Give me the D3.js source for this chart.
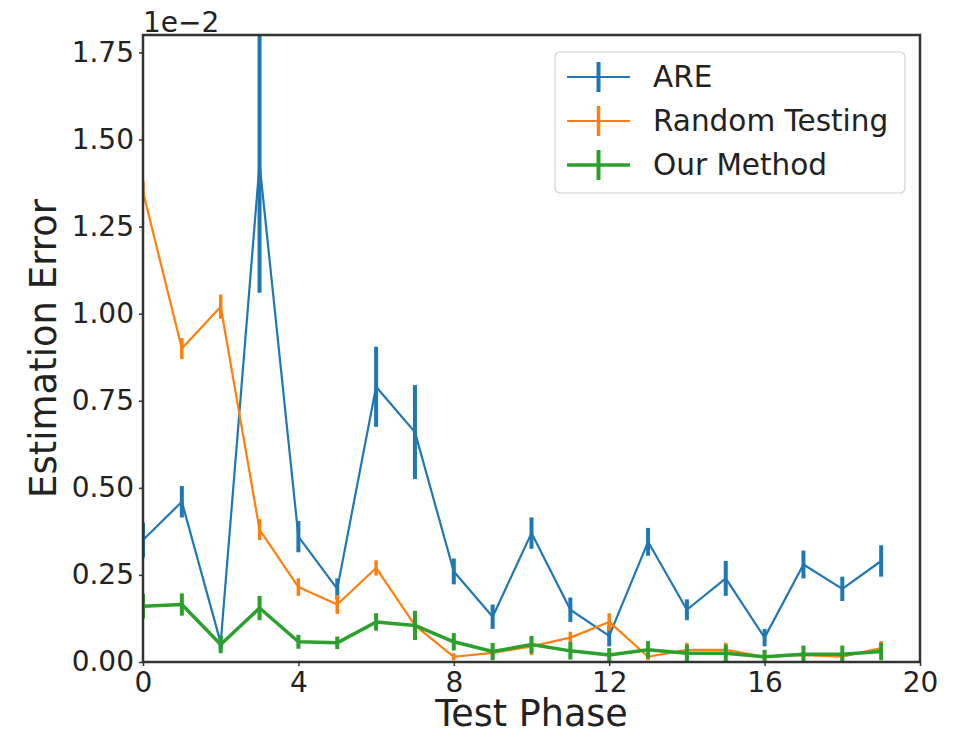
<!DOCTYPE html>
<html>
<head>
<meta charset="utf-8">
<script src="https://cdn.jsdelivr.net/npm/d3@7"></script>
<style>
  body { margin: 0; background: #fff; }
  text { font-family: "DejaVu Sans", sans-serif; fill: #222; }
</style>
</head>
<body>
<svg id="chart" width="961" height="734"></svg>
<script>
// values are in units of 1e-2
var phases = [0, 1, 2, 3, 4, 5, 6, 7, 8, 9, 10, 11, 12, 13, 14, 15, 16, 17, 18, 19]
var areMean = [0.35, 0.46, 0.055, 1.43, 0.36, 0.21, 0.79, 0.66, 0.26, 0.13, 0.37, 0.15, 0.075, 0.345, 0.15, 0.24, 0.07, 0.28, 0.21, 0.29]
var areErr = [0.05, 0.045, 0.02, 0.37, 0.045, 0.03, 0.115, 0.135, 0.037, 0.035, 0.045, 0.035, 0.03, 0.04, 0.03, 0.05, 0.025, 0.04, 0.035, 0.045]
var randMean = [1.35, 0.90, 1.02, 0.38, 0.215, 0.165, 0.27, 0.105, 0.015, 0.026, 0.045, 0.07, 0.115, 0.015, 0.035, 0.035, 0.015, 0.02, 0.015, 0.04]
var randErr = [0.03, 0.03, 0.035, 0.03, 0.025, 0.027, 0.022, 0.02, 0.01, 0.01, 0.025, 0.017, 0.025, 0.01, 0.02, 0.02, 0.01, 0.01, 0.01, 0.02]
var oursMean = [0.16, 0.165, 0.05, 0.155, 0.058, 0.055, 0.115, 0.105, 0.058, 0.03, 0.05, 0.032, 0.02, 0.035, 0.025, 0.025, 0.015, 0.022, 0.022, 0.03]
var oursErr = [0.035, 0.032, 0.025, 0.035, 0.02, 0.018, 0.025, 0.042, 0.025, 0.025, 0.025, 0.025, 0.02, 0.025, 0.025, 0.025, 0.02, 0.025, 0.025, 0.025]
var xTicks = [0, 4, 8, 12, 16, 20]
var yTicks = [0, 0.25, 0.5, 0.75, 1.0, 1.25, 1.5, 1.75]

var series = [
  { name: 'ARE', color: '#1f77b4', mean: areMean, err: areErr, lw: 2.2, ew: 4 },
  { name: 'Random Testing', color: '#ff7f0e', mean: randMean, err: randErr, lw: 2.2, ew: 3.5 },
  { name: 'Our Method', color: '#2ca02c', mean: oursMean, err: oursErr, lw: 3.5, ew: 4 }
]

var margin = { left: 143, top: 35, right: 41, bottom: 72 }
var svg = d3.select('#chart')
var W = +svg.attr('width'), H = +svg.attr('height')
var w = W - margin.left - margin.right, h = H - margin.top - margin.bottom

var x = d3.scaleLinear().domain([0, 20]).range([0, w])
var y = d3.scaleLinear().domain([0, 1.8]).range([h, 0])

var g = svg.append('g').attr('transform', 'translate(' + margin.left + ',' + margin.top + ')')

g.append('clipPath').attr('id', 'clip')
  .append('rect').attr('width', w).attr('height', h)

var plot = g.append('g').attr('clip-path', 'url(#clip)')
var line = d3.line().x((d, i) => x(phases[i])).y((d) => y(d))

series.forEach((s) => {
  plot.append('path')
    .datum(s.mean)
    .attr('d', line)
    .attr('fill', 'none')
    .attr('stroke', s.color)
    .attr('stroke-width', s.lw)
    .attr('stroke-linejoin', 'round')
  plot.selectAll(null)
    .data(s.mean)
    .enter().append('line')
    .attr('x1', (d, i) => x(phases[i]))
    .attr('x2', (d, i) => x(phases[i]))
    .attr('y1', (d, i) => y(d - s.err[i]))
    .attr('y2', (d, i) => y(d + s.err[i]))
    .attr('stroke', s.color)
    .attr('stroke-width', s.ew)
})

// axes
var xAxis = g.append('g').attr('transform', 'translate(0,' + h + ')')
  .call(d3.axisBottom(x).tickValues(xTicks).tickFormat(d3.format('d')).tickSizeInner(4).tickSizeOuter(0).tickPadding(6))
var yAxis = g.append('g')
  .call(d3.axisLeft(y).tickValues(yTicks).tickFormat(d3.format('.2f')).tickSizeInner(4).tickSizeOuter(0).tickPadding(5))
;[xAxis, yAxis].forEach((a) => {
  a.select('.domain').remove()
  a.selectAll('.tick line').attr('stroke', '#333').attr('stroke-width', 1.5)
  a.selectAll('.tick text').style('font-size', '28px').attr('fill', '#222')
})

// frame
g.append('rect')
  .attr('width', w).attr('height', h)
  .attr('fill', 'none')
  .attr('stroke', '#333')
  .attr('stroke-width', 2.5)

// offset text
g.append('text')
  .attr('x', 0).attr('y', -3)
  .style('font-size', '28px')
  .text('1e\u22122')

// axis labels
svg.append('text')
  .attr('x', margin.left + w / 2).attr('y', 726)
  .attr('text-anchor', 'middle')
  .style('font-size', '36.5px')
  .text('Test Phase')
svg.append('text')
  .attr('transform', 'translate(56,' + (margin.top + h / 2) + ') rotate(-90)')
  .attr('text-anchor', 'middle')
  .style('font-size', '37px')
  .text('Estimation Error')

// legend
var legend = svg.append('g').attr('transform', 'translate(555,52)')
legend.append('rect')
  .attr('width', 350).attr('height', 141)
  .attr('rx', 5)
  .attr('fill', '#fff').attr('fill-opacity', 0.8)
  .attr('stroke', '#d0d0d0').attr('stroke-width', 1.2)
series.forEach((s, i) => {
  var row = legend.append('g').attr('transform', 'translate(0,' + (25 + i * 44) + ')')
  row.append('line')
    .attr('x1', 12).attr('x2', 75).attr('y1', 0).attr('y2', 0)
    .attr('stroke', s.color).attr('stroke-width', s.lw)
  row.append('line')
    .attr('x1', 43.5).attr('x2', 43.5).attr('y1', -15).attr('y2', 15)
    .attr('stroke', s.color).attr('stroke-width', s.ew)
  row.append('text')
    .attr('x', 98).attr('y', 0).attr('dy', '0.35em')
    .style('font-size', '29.5px')
    .text(s.name)
})
</script>
</body>
</html>
